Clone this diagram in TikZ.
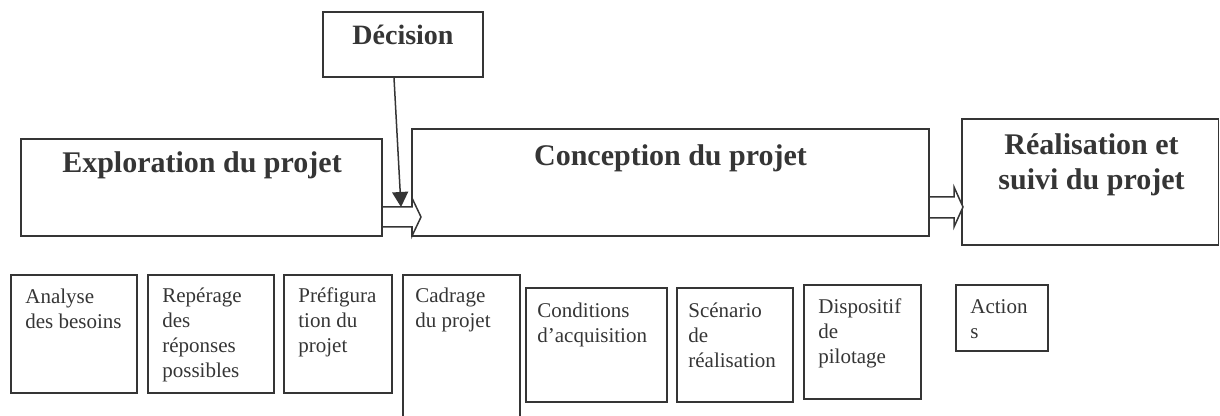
\documentclass[tikz,border=0pt]{standalone}
\usepackage{fontspec}
\setmainfont{Liberation Serif}
\usetikzlibrary{arrows.meta,fit}
\definecolor{ink}{HTML}{353535}
\newcommand\mylines[2][l]{\begin{tabular}[t]{@{}#1@{}}#2\end{tabular}}
\begin{document}
\begin{tikzpicture}[x=0.5pt,y=-0.5pt,
  box/.style={draw=ink, line width=0.75pt, inner sep=0pt},
  small/.style={inner sep=0pt, anchor=base west, text=ink, font=\fontsize{10.5}{12.4}\selectfont},
  big/.style={inner sep=0pt, anchor=base, text=ink, font=\bfseries\fontsize{15}{17.5}\selectfont},
  blockarrow/.style={draw=ink, line width=0.75pt, fill=white, line join=miter}]
\useasboundingbox (0,0) rectangle (1220,416);
\clip (0,0) rectangle (1220,416);

% main boxes
\node[box, fit={(323,12)(483,77)}] (dec) {};
\node[box, fit={(21,139)(382,236)}] (expl) {};
\node[box, fit={(412,129)(929,236)}] (conc) {};
\node[box, fit={(962,119)(1218.5,245)}] (real) {};

% block arrows
\draw[blockarrow] (382,207) -- (412,207) -- (412,198) -- (421,217) -- (412,236) -- (412,227) -- (382,227) -- cycle;
\draw[blockarrow] (929,197) -- (954,197) -- (954,187) -- (963,207) -- (954,227) -- (954,218) -- (929,218) -- cycle;

% decision arrow
\coordinate (a1tip) at (401,207);
\draw[ink, line width=0.75pt, -{Triangle[length=7.5pt,width=8pt]}] ([xshift=-4.5pt]dec.south) -- (a1tip);

% headings
\node[big, font=\bfseries\fontsize{14}{16}\selectfont] (tdec) at (403,45) {Décision};
\node[big] (texpl) at (202,173) {Exploration du projet};
\node[big] (tconc) at (670.5,166) {Conception du projet};
\node[big] (treal) at (1091.5,155) {\mylines[c]{Réalisation et\\suivi du projet}};

% lower boxes
\node[box, fit={(11,275)(137,393)}] (b1) {};
\node[box, fit={(148,275)(274,393)}] (b2) {};
\node[box, fit={(284,275)(392,393)}] (b3) {};
\node[box, fit={(403,275)(520,430)}] (b4) {};
\node[box, fit={(526,288)(667,402)}] (b5) {};
\node[box, fit={(677,288)(793,402)}] (b6) {};
\node[box, fit={(804,285)(921,399)}] (b7) {};
\node[box, fit={(956,285)(1048,351)}] (b8) {};

\node[small] (t1) at (25,304) {\mylines{Analyse\\des besoins}};
\node[small] (t2) at (162,303) {\mylines{Repérage\\des\\réponses\\possibles}};
\node[small] (t3) at (298,303) {\mylines{Préfigura\\tion du\\projet}};
\node[small] (t4) at (415,303) {\mylines{Cadrage\\du projet}};
\node[small] (t5) at (537,318) {\mylines{Conditions\\d’acquisition}};
\node[small] (t6) at (688,318) {\mylines{Scénario\\de\\réalisation}};
\node[small] (t7) at (818,314) {\mylines{Dispositif\\de\\pilotage}};
\node[small] (t8) at (970,314) {\mylines{Action\\s}};
\end{tikzpicture}
\end{document}
